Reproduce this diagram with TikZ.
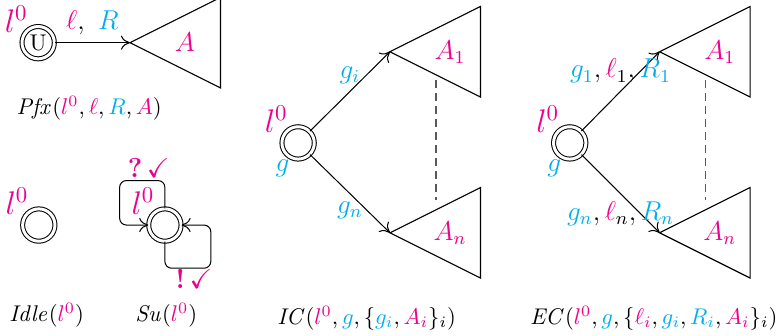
\documentclass[tikz,border=0pt]{standalone}
\usepackage{amssymb}
\usetikzlibrary{arrows.meta}
\definecolor{locmag}{RGB}{236,0,140}
\definecolor{grdcyan}{RGB}{0,174,239}

\begin{document}
\begin{tikzpicture}[
    init/.style={draw, circle, double, double distance=1.3pt, line width=0.45pt,
        minimum size=0.5cm, inner sep=0pt, font=\normalsize},
    loclab/.style={font=\Large, text=locmag, inner sep=0.5pt, label distance=-1.8pt},
    grdlab/.style={font=\large, text=grdcyan, inner sep=0.5pt},
    tri/.style={line width=0.5pt, line join=miter},
    trans/.style={-{To[length=1.4mm, width=2.2mm]}, line width=0.45pt},
    selfloop/.style={trans, rounded corners=3pt},
    elab/.style={font=\large},
    tree/.style={font=\large, text=locmag},
    sync/.style={font=\large, text=locmag, inner sep=1pt},
    dots/.style={draw=black!65, line width=0.7pt, dash pattern=on 3.5pt off 2.2pt},
    caption/.style={font=\normalsize}
]
    \useasboundingbox (0, 0) rectangle (12.0, -5.195);

    % prefix
    \node[init, label={[loclab]135:$l^0$}] (pfx_init) at (0.59, -0.66) {U};
    \coordinate (pfx_apex) at (2.01, -0.66);
    \draw[trans] (pfx_init) --
        node[above, elab] {${\color{locmag}\ell},\ {\color{grdcyan}R}$} (pfx_apex);
    \draw[tri] (pfx_apex) -- ++(1.40, 0.70) -- ++(0, -1.40) -- cycle;
    \node[tree] (pfx_tree) at ([xshift=0.85cm]pfx_apex) {$A$};
    \node[caption] (pfx_cap) at (1.38, -1.67)
        {$\mathit{Pfx}({\color{locmag}l^0}, {\color{locmag}\ell},
        {\color{grdcyan}R}, {\color{locmag}A})$};

    % idle
    \node[init, label={[loclab]135:$l^0$}] (idle_init) at (0.60, -3.48) {};
    \node[caption] (idle_cap) at (0.72, -4.88)
        {$\mathit{Idle}({\color{locmag}l^0})$};

    % success
    \node[init, label={[loclab]135:$l^0$}] (su_init) at (2.55, -3.48) {};
    \draw[selfloop] (su_init.north) -- ++(0, 0.43) -- ++(-0.70, 0) |- (su_init.west);
    \draw[selfloop] (su_init.south) -- ++(0, -0.41) -- ++(0.71, 0) |- (su_init.east);
    \node[sync] (su_recv) at (2.30, -2.60) {\textbf{?}\,$\checkmark$};
    \node[sync] (su_send) at (3.00, -4.31) {\textbf{!}\,$\checkmark$};
    \node[caption] (su_cap) at (2.57, -4.88)
        {$\mathit{Su}({\color{locmag}l^0})$};

    % internal choice
    \node[init, label={[loclab]135:$l^0$}, label={[grdlab]245:$g$}]
        (ic_init) at (4.61, -2.21) {};
    \coordinate (ic_a1) at (6.03, -0.80);
    \coordinate (ic_an) at (6.03, -3.60);
    \draw[trans] (ic_init) -- node[above, elab] {$\color{grdcyan}g_i$} (ic_a1);
    \draw[trans] (ic_init) -- node[below, elab] {$\color{grdcyan}g_n$} (ic_an);
    \draw[tri] (ic_a1) -- ++(1.40, 0.70) -- ++(0, -1.40) -- cycle;
    \draw[tri] (ic_an) -- ++(1.40, 0.70) -- ++(0, -1.40) -- cycle;
    \node[tree] (ic_tree1) at ([xshift=0.93cm]ic_a1) {$A_1$};
    \node[tree] (ic_treen) at ([xshift=0.93cm]ic_an) {$A_n$};
    \coordinate (ic_dtop) at (6.74, -1.24);
    \coordinate (ic_dbot) at (6.74, -3.09);
    \draw[dots] (ic_dtop) -- (ic_dbot);
    \node[caption] (ic_cap) at (5.67, -4.92)
        {$\mathit{IC}({\color{locmag}l^0}, {\color{grdcyan}g},
        \{{\color{grdcyan}g_i}, {\color{locmag}A_i}\}_i)$};

    % external choice
    \node[init, label={[loclab]135:$l^0$}, label={[grdlab]245:$g$}]
        (ec_init) at (8.81, -2.21) {};
    \coordinate (ec_a1) at (10.20, -0.80);
    \coordinate (ec_an) at (10.20, -3.60);
    \draw[trans] (ec_init) -- node[above, elab]
        {${\color{grdcyan}g_1}, {\color{locmag}\ell}_1, {\color{grdcyan}R_1}$} (ec_a1);
    \draw[trans] (ec_init) -- node[below, elab]
        {${\color{grdcyan}g_n}, {\color{locmag}\ell}_n, {\color{grdcyan}R_n}$} (ec_an);
    \draw[tri] (ec_a1) -- ++(1.40, 0.70) -- ++(0, -1.40) -- cycle;
    \draw[tri] (ec_an) -- ++(1.40, 0.70) -- ++(0, -1.40) -- cycle;
    \node[tree] (ec_tree1) at ([xshift=0.93cm]ec_a1) {$A_1$};
    \node[tree] (ec_treen) at ([xshift=0.93cm]ec_an) {$A_n$};
    \coordinate (ec_dtop) at (10.91, -1.24);
    \coordinate (ec_dbot) at (10.91, -3.09);
    \draw[dots] (ec_dtop) -- (ec_dbot);
    \node[caption] (ec_cap) at (10.11, -4.92)
        {$\mathit{EC}({\color{locmag}l^0}, {\color{grdcyan}g},
        \{{\color{locmag}\ell_i}, {\color{grdcyan}g_i}, {\color{grdcyan}R_i},
        {\color{locmag}A_i}\}_i)$};
\end{tikzpicture}
\end{document}
